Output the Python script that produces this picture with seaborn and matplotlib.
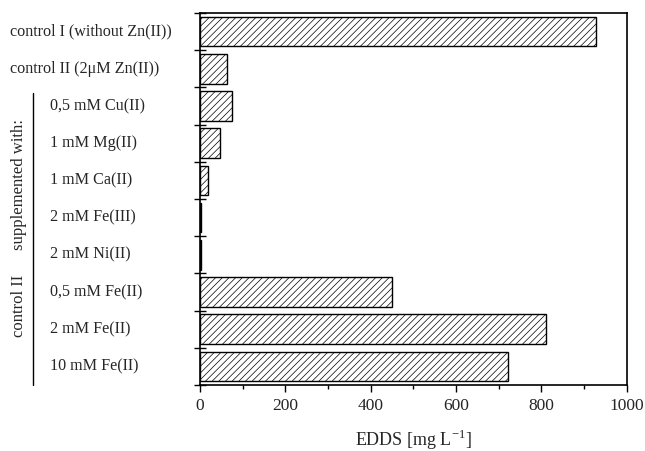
import matplotlib
matplotlib.use("Agg")
import matplotlib.pyplot as plt
import seaborn as sns
import pandas as pd
import numpy as np

categories = ["control I (without Zn(II))", "control II (2\u03bcM Zn(II))",
              "0,5 mM Cu(II)", "1 mM Mg(II)", "1 mM Ca(II)", "2 mM Fe(III)",
              "2 mM Ni(II)", "0,5 mM Fe(II)", "2 mM Fe(II)", "10 mM Fe(II)"]
values = [928, 63, 76, 48, 20, 3, 3, 451, 811, 721]
indented = [False, False, True, True, True, True, True, True, True, True]
xticks = [0, 200, 400, 600, 800, 1000]

sns.set_theme(style="white")
plt.rcParams['font.family'] = ['Liberation Serif', 'DejaVu Serif']
plt.rcParams['hatch.linewidth'] = 0.5

df = pd.DataFrame({"cat": categories, "val": values})

fig = plt.figure(figsize=(6.45, 4.51), dpi=100)
ax = fig.add_axes([0.310, 0.1463, 0.6616, 0.8249])
sns.barplot(data=df, x="val", y="cat", orient="h", color="white",
            edgecolor="black", linewidth=1.0, width=0.8, ax=ax)
for p in ax.patches:
    p.set_hatch("/////")
    p.set_facecolor("white")
    p.set_edgecolor("black")

ax.set_xlim(0, 1000)
ax.set_ylim(len(categories) - 0.5, -0.5)
ax.set_xticks(xticks)
ax.set_xticklabels([str(t) for t in xticks], fontsize=12.5)
ax.set_xticks([100, 300, 500, 700, 900], minor=True)
ax.tick_params(axis="x", which="major", direction="out", length=5, width=1, color="black", pad=4, bottom=True)
ax.tick_params(axis="x", which="minor", direction="out", length=3, width=1, color="black", bottom=True)

ax.set_yticks(range(len(categories)))
ax.set_yticklabels([""] * len(categories))
ax.tick_params(axis="y", which="major", length=0)
ax.set_yticks(np.arange(-0.5, len(categories) + 0.5, 1.0), minor=True)
ax.tick_params(axis="y", which="minor", direction="inout", length=8, width=1, color="black", left=True)
ax.set_ylabel("")
ax.set_xlabel("EDDS [mg L$^{\\mathregular{-1}}$]", fontsize=13, labelpad=10)

for s in ax.spines.values():
    s.set_visible(True)
    s.set_color("black")
    s.set_linewidth(1.2)

trans = matplotlib.transforms.blended_transform_factory(fig.transFigure, ax.transData)
for i, (c, ind) in enumerate(zip(categories, indented)):
    x = 50 / 645 if ind else 10 / 645
    ax.text(x, i, c, transform=trans, ha="left", va="center", fontsize=11.6, clip_on=False)

# group bracket line and rotated label
fig.add_artist(plt.Line2D([33 / 645, 33 / 645], [1 - 93 / 451, 1 - 385 / 451],
                          color="black", linewidth=1.0, transform=fig.transFigure))
fig.text(19 / 645, 1 - 185 / 451, "supplemented with:", rotation=90, ha="center", va="center",
         fontsize=12)
fig.text(19 / 645, 1 - 306 / 451, "control II", rotation=90, ha="center", va="center",
         fontsize=12)

fig.savefig("out.png", dpi=100)
